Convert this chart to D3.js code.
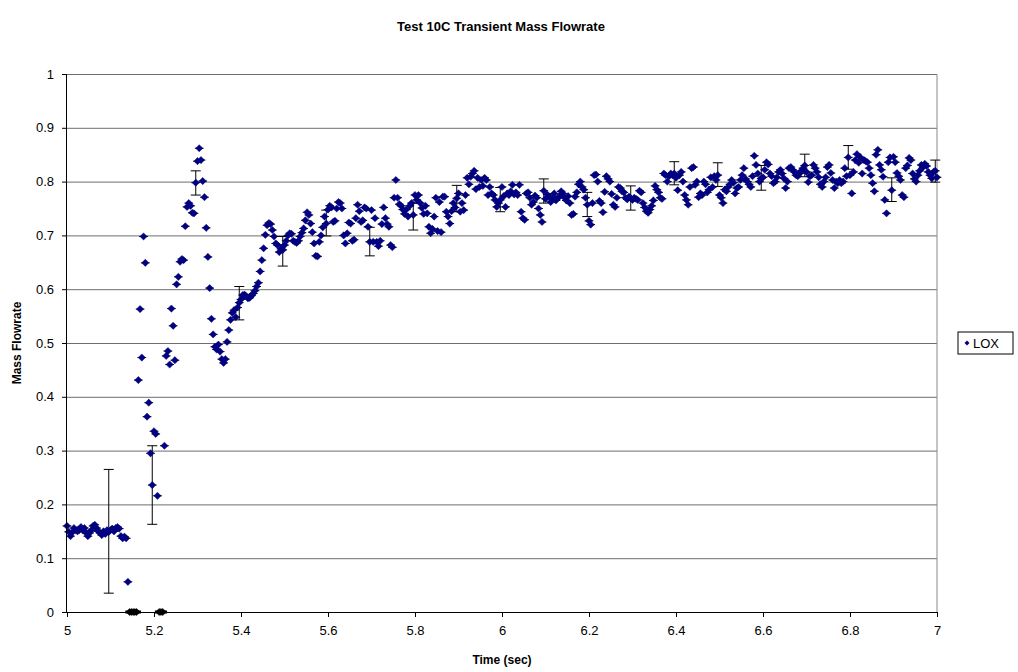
<!DOCTYPE html>
<html>
<head>
<meta charset="utf-8">
<script src="https://cdn.jsdelivr.net/npm/d3@7.9.0/dist/d3.min.js"></script>
<style>
  html, body { margin: 0; padding: 0; background: #fff; }
  svg text { font-family: Arial, "Liberation Sans", sans-serif; fill: #000; }
</style>
</head>
<body>
<div id="chart"></div>
<script>
// LOX mass flowrate, sampled every 4 ms from t = 5.000 s (one line = 0.1 s)
const t0 = 5.0;
const dt = 0.004;
const lox = [
  0.160, 0.149, 0.141, 0.148, 0.156, 0.152, 0.150, 0.152, 0.158, 0.152, 0.156, 0.147, 0.141, 0.147, 0.152, 0.160, 0.162, 0.156, 0.150, 0.147, 0.143, 0.150, 0.145, 0.152, 0.149,
  0.152, 0.155, 0.150, 0.156, 0.158, 0.155, 0.141, 0.137, 0.140, 0.137, 0.056, 0, 0, 0, 0, 0, 0.431, 0.563, 0.473, 0.698, 0.649, 0.363, 0.389, 0.295, 0.236,
  0.336, 0.331, 0.216, 0, 0, 0, 0.309, 0.476, 0.485, 0.460, 0.564, 0.532, 0.468, 0.609, 0.623, 0.651, 0.656, 0.654, 0.717, 0.753, 0.760, 0.755, 0.742, 0.741, 0.798,
  0.838, 0.862, 0.840, 0.801, 0.771, 0.714, 0.660, 0.602, 0.545, 0.516, 0.493, 0.488, 0.497, 0.484, 0.470, 0.463, 0.470, 0.502, 0.524, 0.543, 0.556, 0.561, 0.548, 0.566, 0.575,
  0.581, 0.589, 0.590, 0.587, 0.583, 0.584, 0.588, 0.592, 0.597, 0.605, 0.612, 0.633, 0.654, 0.676, 0.701, 0.719, 0.723, 0.721, 0.710, 0.698, 0.685, 0.682, 0.669, 0.675, 0.673,
  0.682, 0.690, 0.700, 0.704, 0.703, 0.690, 0.688, 0.686, 0.690, 0.698, 0.705, 0.713, 0.728, 0.743, 0.738, 0.722, 0.706, 0.685, 0.662, 0.661, 0.688, 0.700, 0.715, 0.735, 0.722,
  0.748, 0.755, 0.752, 0.725, 0.727, 0.750, 0.762, 0.760, 0.750, 0.700, 0.685, 0.704, 0.724, 0.722, 0.690, 0.692, 0.732, 0.757, 0.745, 0.725, 0.728, 0.752, 0.750, 0.716, 0.688,
  0.747, 0.688, 0.732, 0.688, 0.680, 0.690, 0.721, 0.752, 0.732, 0.721, 0.716, 0.682, 0.678, 0.770, 0.803, 0.770, 0.758, 0.755, 0.748, 0.740, 0.748, 0.735, 0.755, 0.760, 0.738,
  0.775, 0.766, 0.775, 0.760, 0.751, 0.740, 0.755, 0.741, 0.716, 0.704, 0.712, 0.735, 0.770, 0.708, 0.762, 0.706, 0.772, 0.772, 0.744, 0.735, 0.722, 0.745, 0.760, 0.752, 0.769,
  0.778, 0.744, 0.760, 0.747, 0.775, 0.807, 0.795, 0.809, 0.815, 0.820, 0.786, 0.807, 0.790, 0.803, 0.792, 0.807, 0.803, 0.775, 0.790, 0.778, 0.775, 0.766, 0.753, 0.760, 0.766,
  0.790, 0.773, 0.753, 0.778, 0.775, 0.782, 0.794, 0.776, 0.780, 0.775, 0.794, 0.744, 0.732, 0.729, 0.778, 0.780, 0.770, 0.757, 0.762, 0.774, 0.770, 0.750, 0.738, 0.725, 0.783,
  0.768, 0.776, 0.772, 0.762, 0.770, 0.778, 0.765, 0.770, 0.772, 0.782, 0.778, 0.770, 0.765, 0.773, 0.760, 0.738, 0.740, 0.772, 0.780, 0.795, 0.800, 0.790, 0.785, 0.770, 0.757,
  0.727, 0.720, 0.760, 0.812, 0.813, 0.800, 0.764, 0.760, 0.743, 0.781, 0.810, 0.805, 0.800, 0.777, 0.757, 0.753, 0.770, 0.790, 0.788, 0.782, 0.780, 0.770, 0.767, 0.772, 0.769,
  0.766, 0.770, 0.768, 0.766, 0.783, 0.780, 0.760, 0.752, 0.745, 0.742, 0.748, 0.755, 0.765, 0.792, 0.785, 0.780, 0.770, 0.768, 0.815, 0.812, 0.800, 0.810, 0.815, 0.812, 0.815,
  0.807, 0.784, 0.812, 0.818, 0.800, 0.775, 0.766, 0.757, 0.790, 0.825, 0.827, 0.794, 0.800, 0.771, 0.778, 0.775, 0.800, 0.795, 0.780, 0.785, 0.808, 0.790, 0.810, 0.803, 0.812,
  0.775, 0.770, 0.760, 0.785, 0.782, 0.790, 0.795, 0.803, 0.798, 0.778, 0.788, 0.790, 0.803, 0.812, 0.825, 0.805, 0.800, 0.795, 0.790, 0.810, 0.848, 0.831, 0.815, 0.800, 0.806,
  0.808, 0.822, 0.836, 0.832, 0.815, 0.810, 0.797, 0.800, 0.808, 0.818, 0.822, 0.815, 0.806, 0.788, 0.800, 0.825, 0.827, 0.822, 0.818, 0.812, 0.810, 0.815, 0.820, 0.825, 0.830,
  0.818, 0.799, 0.810, 0.812, 0.831, 0.825, 0.818, 0.808, 0.795, 0.790, 0.800, 0.808, 0.827, 0.831, 0.816, 0.803, 0.788, 0.800, 0.797, 0.803, 0.797, 0.800, 0.825, 0.810, 0.845,
  0.812, 0.778, 0.818, 0.840, 0.851, 0.835, 0.845, 0.815, 0.840, 0.838, 0.836, 0.825, 0.812, 0.797, 0.782, 0.850, 0.859, 0.831, 0.822, 0.809, 0.766, 0.741, 0.836, 0.845, 0.784,
  0.846, 0.836, 0.816, 0.810, 0.803, 0.775, 0.771, 0.825, 0.830, 0.844, 0.840, 0.815, 0.805, 0.800, 0.812, 0.820, 0.831, 0.827, 0.833, 0.829, 0.818, 0.812, 0.806, 0.818, 0.820,
  0.808
];

// x error (sec) drawn on every point
const xErr = 0.01;

// vertical error bars (every 0.1 s)
const errTime = [5.096, 5.196, 5.296, 5.396, 5.496, 5.596, 5.696, 5.796, 5.896, 5.996,
                 6.096, 6.196, 6.296, 6.396, 6.496, 6.596, 6.696, 6.796, 6.896, 6.996];
const errLow  = [0.035, 0.163, 0.775, 0.543, 0.643, 0.699, 0.662, 0.710, 0.744, 0.744,
                 0.760, 0.735, 0.747, 0.794, 0.791, 0.784, 0.809, 0.823, 0.763, 0.799];
const errHigh = [0.265, 0.309, 0.820, 0.605, 0.698, 0.747, 0.715, 0.760, 0.793, 0.789,
                 0.805, 0.780, 0.792, 0.837, 0.835, 0.830, 0.851, 0.867, 0.807, 0.840];

const xTicks = [5, 5.2, 5.4, 5.6, 5.8, 6, 6.2, 6.4, 6.6, 6.8, 7];
const yTicks = [0, 0.1, 0.2, 0.3, 0.4, 0.5, 0.6, 0.7, 0.8, 0.9, 1];

const width = 1018, height = 672;
const margin = { top: 74, right: 81, bottom: 60, left: 67 };
const navy = '#000080';

const points = lox.map((v, i) => ({ t: t0 + i * dt, v }));
const bars = errTime.map((t, i) => ({ t, lo: errLow[i], hi: errHigh[i] }));

const svg = d3.select('#chart').append('svg')
  .attr('width', width)
  .attr('height', height);

const x = d3.scaleLinear().domain([5, 7]).range([margin.left, width - margin.right]);
const y = d3.scaleLinear().domain([0, 1]).range([height - margin.bottom, margin.top]);

// gridlines
svg.append('g')
  .attr('transform', `translate(${margin.left},0)`)
  .call(d3.axisLeft(y).tickValues(yTicks).tickFormat('')
    .tickSize(-(width - margin.left - margin.right)))
  .call(g => g.select('.domain').remove())
  .call(g => g.selectAll('line').attr('stroke', '#6e6e6e'));

// right border of plot area
svg.append('line')
  .attr('x1', x(7)).attr('x2', x(7))
  .attr('y1', y(1)).attr('y2', y(0))
  .attr('stroke', '#8a8a8a');

// x error bars on each point
svg.append('g')
  .selectAll('line')
  .data(points)
  .join('line')
  .attr('x1', d => x(d.t - xErr))
  .attr('x2', d => x(d.t + xErr))
  .attr('y1', d => y(d.v))
  .attr('y2', d => y(d.v))
  .attr('stroke', '#000')
  .attr('stroke-width', d => d.v === 0 ? 3 : 1);

// vertical error bars with caps
const eb = svg.append('g').attr('stroke', '#000').attr('stroke-width', 1);
eb.selectAll('.stem').data(bars).join('line')
  .attr('class', 'stem')
  .attr('x1', d => x(d.t)).attr('x2', d => x(d.t))
  .attr('y1', d => y(d.lo)).attr('y2', d => y(d.hi));
eb.selectAll('.capTop').data(bars).join('line')
  .attr('class', 'capTop')
  .attr('x1', d => x(d.t) - 5).attr('x2', d => x(d.t) + 5)
  .attr('y1', d => y(d.hi)).attr('y2', d => y(d.hi));
eb.selectAll('.capBot').data(bars).join('line')
  .attr('class', 'capBot')
  .attr('x1', d => x(d.t) - 5).attr('x2', d => x(d.t) + 5)
  .attr('y1', d => y(d.lo)).attr('y2', d => y(d.lo));

// diamond markers
const diamond = 'M0,-3.6L3.6,0L0,3.6L-3.6,0Z';
svg.append('g')
  .selectAll('path')
  .data(points)
  .join('path')
  .attr('d', diamond)
  .attr('transform', d => `translate(${x(d.t)},${y(d.v)})`)
  .attr('fill', d => d.v === 0 ? '#000' : navy)
  .attr('stroke', d => d.v === 0 ? '#000' : navy)
  .attr('stroke-width', 0.5);

// axes
svg.append('g')
  .attr('transform', `translate(0,${height - margin.bottom})`)
  .call(d3.axisBottom(x).tickValues(xTicks).tickFormat(d3.format('~g')).tickSize(5).tickPadding(9))
  .call(g => g.select('.domain').attr('stroke', '#000').attr('d', `M${x(5)},0.5H${x(7)}`))
  .call(g => g.selectAll('text').attr('font-size', 13).attr('font-family', 'Arial, "Liberation Sans", sans-serif'));

svg.append('g')
  .attr('transform', `translate(${margin.left},0)`)
  .call(d3.axisLeft(y).tickValues(yTicks).tickFormat(d3.format('~g')).tickSize(5).tickPadding(8))
  .call(g => g.select('.domain').attr('stroke', '#000').attr('d', `M-0.5,${y(1)}V${y(0)}`))
  .call(g => g.selectAll('text').attr('font-size', 13).attr('font-family', 'Arial, "Liberation Sans", sans-serif'));

// titles
svg.append('text')
  .attr('x', 501).attr('y', 31)
  .attr('text-anchor', 'middle')
  .attr('font-size', 13).attr('font-weight', 'bold')
  .text('Test 10C Transient Mass Flowrate');

svg.append('text')
  .attr('x', (x(5) + x(7)) / 2).attr('y', 664)
  .attr('text-anchor', 'middle')
  .attr('font-size', 12).attr('font-weight', 'bold')
  .text('Time (sec)');

svg.append('text')
  .attr('transform', `translate(21,${(y(0) + y(1)) / 2}) rotate(-90)`)
  .attr('text-anchor', 'middle')
  .attr('font-size', 12).attr('font-weight', 'bold')
  .text('Mass Flowrate');

// legend
const lg = svg.append('g').attr('transform', 'translate(958,332)');
lg.append('rect')
  .attr('width', 55).attr('height', 22)
  .attr('fill', '#fff').attr('stroke', '#000');
lg.append('path')
  .attr('d', 'M0,-2.5L2.5,0L0,2.5L-2.5,0Z')
  .attr('transform', 'translate(9,11)')
  .attr('fill', navy);
lg.append('text')
  .attr('x', 15).attr('y', 16)
  .attr('font-size', 13)
  .text('LOX');
</script>
</body>
</html>
